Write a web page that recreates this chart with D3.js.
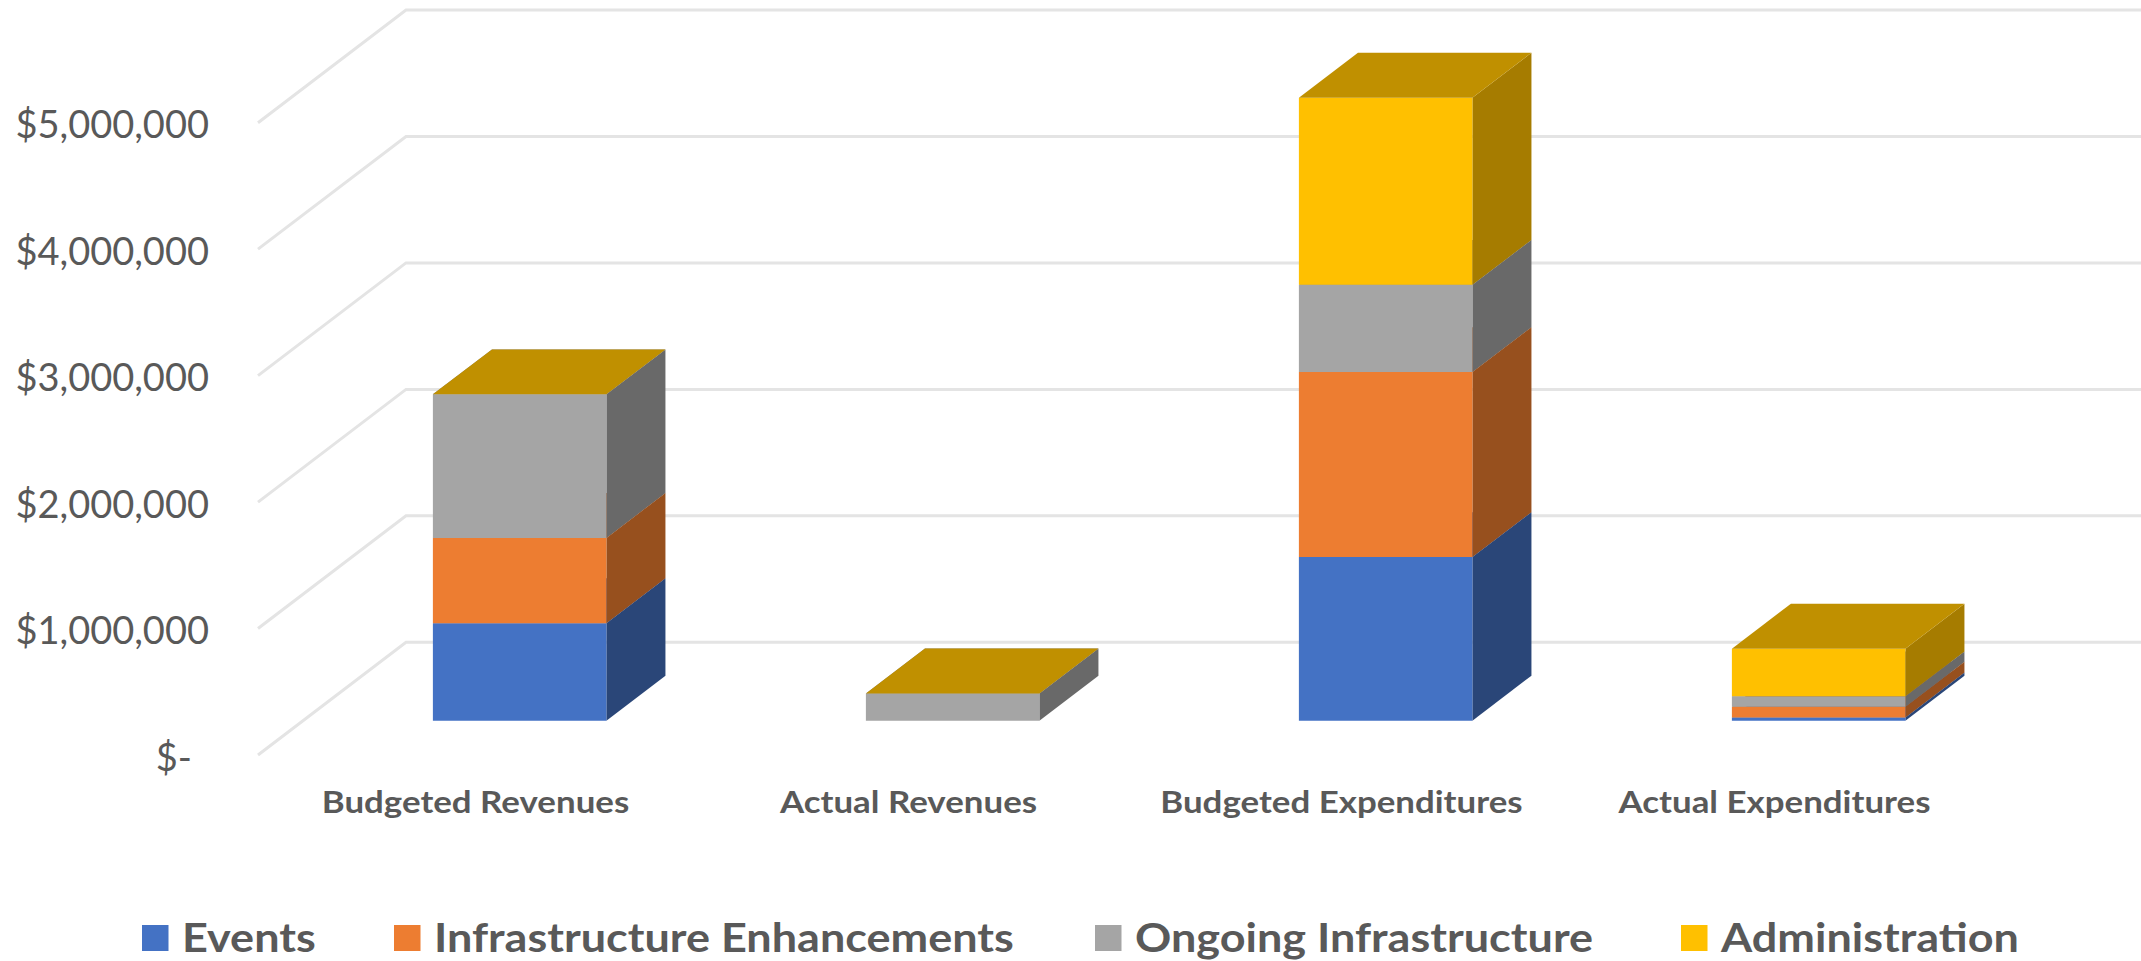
<!DOCTYPE html>
<html>
<head>
<meta charset="utf-8">
<script src="https://cdn.jsdelivr.net/npm/d3@7"></script>
<style>
  html, body { margin: 0; background: #fff; }
  text { font-family: Lato, "Open Sans", sans-serif; fill: #595959; }
</style>
</head>
<body>
<div id="chart"></div>
<script>
// Values
const categories = ["Budgeted Revenues", "Actual Revenues", "Budgeted Expenditures", "Actual Expenditures"];
const seriesNames = ["Events", "Infrastructure Enhancements", "Ongoing Infrastructure", "Administration"];
const events = [770000, 0, 1293000, 25000];
const infrastructure = [675000, 0, 1463000, 85000];
const ongoing = [1135000, 215000, 690000, 82000];
const administration = [0, 0, 1479000, 377000];
const yTicks = [0, 1000000, 2000000, 3000000, 4000000, 5000000];

const frontColors = ["#4472C4", "#ED7D31", "#A5A5A5", "#FFC000"];
const sideColors = ["#2A4678", "#97501E", "#696969", "#A67C00"];
const topColors = ["#3F6AB5", "#BE6427", "#848484", "#C09000"];
const legendX = [142, 394, 1095, 1681];

const width = 2141, height = 961;

const svg = d3.select("#chart").append("svg")
    .attr("width", width)
    .attr("height", height)
    .style("display", "block");

// Front edge of the floor
const y = d3.scaleLinear().domain([0, 5000000]).range([755, 122.7]);
const x = d3.scaleBand().domain(categories).range([258, 1990]);

// Depth runs from the front of the floor to the back wall
const depthX = d3.scaleLinear().domain([0, 1]).range([0, 148]);
const depthY = d3.scaleLinear().domain([0, 1]).range([0, -112.7]);
const barWidth = 173.5;
const barFront = 0.305;
const barBack = 0.704;
const barLeft = cat => x(cat) + x.bandwidth() / 2 - barWidth / 2;

function pt(px, value, depth) {
    return [px + depthX(depth), y(value) + depthY(depth)];
}

const polygon = pts => "M" + pts.map(p => p.join(",")).join("L") + "Z";

// Gridlines: floor edge going back, then along the back wall
svg.append("g")
    .selectAll("path")
    .data(yTicks)
    .join("path")
    .attr("d", d => d3.line()([pt(258, d, 0), pt(258, d, 1), pt(width - 2, d, 1)]))
    .attr("fill", "none")
    .attr("stroke", "#e4e4e4")
    .attr("stroke-width", 3);

// Stack the series
const rows = categories.map((c, i) => ({
    category: c,
    s0: events[i], s1: infrastructure[i], s2: ongoing[i], s3: administration[i]
}));
const stacked = d3.stack().keys(["s0", "s1", "s2", "s3"])(rows);

// Bars, bottom layer first so that the upper faces cover the lower ones
const bars = svg.append("g");
categories.forEach((c, ci) => {
    const left = barLeft(c);
    const right = left + barWidth;
    stacked.forEach((layer, si) => {
        const [v0, v1] = layer[ci];
        if (v1 === v0 && si < 3) return;
        const g = bars.append("g");
        g.append("path")
            .attr("d", polygon([pt(right, v0, barFront), pt(right, v0, barBack), pt(right, v1, barBack), pt(right, v1, barFront)]))
            .attr("fill", sideColors[si]);
        g.append("path")
            .attr("d", polygon([pt(left, v0, barFront), pt(right, v0, barFront), pt(right, v1, barFront), pt(left, v1, barFront)]))
            .attr("fill", frontColors[si]);
        g.append("path")
            .attr("d", polygon([pt(left, v1, barFront), pt(right, v1, barFront), pt(right, v1, barBack), pt(left, v1, barBack)]))
            .attr("fill", topColors[si]);
    });
});

// Value axis
const yAxis = svg.append("g")
    .attr("transform", "translate(209,0)")
    .call(d3.axisLeft(y)
        .tickValues(yTicks)
        .tickSize(0)
        .tickPadding(0)
        .tickFormat(d => d === 0 ? "$-" : d3.format("$,")(d)));
yAxis.select(".domain").remove();
yAxis.selectAll("text")
    .attr("dy", null)
    .attr("y", 15)
    .attr("x", d => d === 0 ? -17 : 0)
    .attr("font-size", 38);

// Category axis, the source font is wider than Lato so stretch it a bit
const xAxis = svg.append("g")
    .attr("transform", "translate(1,813)")
    .call(d3.axisBottom(x).tickSize(0).tickPadding(0));
xAxis.select(".domain").remove();
xAxis.selectAll("text")
    .attr("dy", null)
    .attr("y", 0)
    .attr("transform", "scale(1.125,1)")
    .attr("font-size", 31)
    .attr("font-weight", 700);

// Legend
const legend = svg.append("g")
    .selectAll("g")
    .data(seriesNames)
    .join("g")
    .attr("transform", (d, i) => `translate(${legendX[i]},0)`);

legend.append("rect")
    .attr("y", 925)
    .attr("width", 26.5)
    .attr("height", 26)
    .attr("fill", (d, i) => frontColors[i]);

legend.append("text")
    .text(d => d)
    .attr("transform", "translate(40,952) scale(1.125,1)")
    .attr("font-size", 40)
    .attr("font-weight", 700);
</script>
</body>
</html>
